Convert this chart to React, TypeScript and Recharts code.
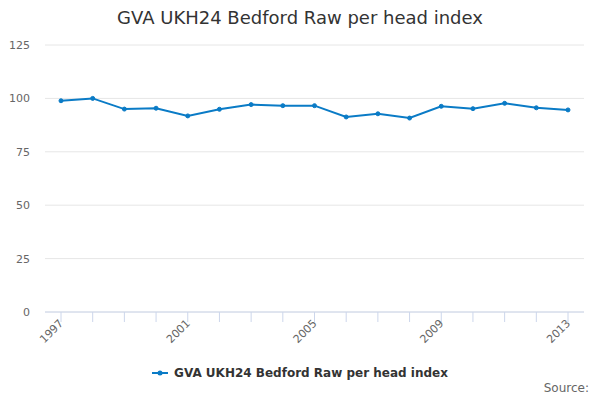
import React from "react";
import { LineChart, Line, XAxis, YAxis, CartesianGrid } from "recharts";

const years = [
  "1997", "1998", "1999", "2000", "2001", "2002", "2003", "2004", "2005",
  "2006", "2007", "2008", "2009", "2010", "2011", "2012", "2013",
];
const gvaIndex = [
  98.9, 100.0, 95.0, 95.4, 91.8, 94.9, 97.1, 96.6, 96.6,
  91.3, 92.8, 90.8, 96.3, 95.2, 97.7, 95.6, 94.6,
];
const yTicks = [0, 25, 50, 75, 100, 125];

const seriesName = "GVA UKH24 Bedford Raw per head index";
const lineColor = "#0a7bc6";
const font = "'DejaVu Sans', sans-serif";

const data = years.map((year, i) => ({ year, value: gvaIndex[i] }));

function YearTick({ x, y, payload, index }: { x?: number; y?: number; payload?: { value: string }; index?: number }) {
  const px = x ?? 0;
  const py = y ?? 0;
  return (
    <g>
      <line x1={px} y1={py} x2={px} y2={py + 10} stroke="#ccd6eb" />
      {index !== undefined && index % 4 === 0 && (
        <text
          x={px + 3}
          y={py + 12}
          textAnchor="end"
          fontSize={11}
          fill="#666666"
          fontFamily={font}
          transform={`rotate(-45 ${px + 3} ${py + 12})`}
        >
          {payload?.value}
        </text>
      )}
    </g>
  );
}

function LegendContent() {
  return (
    <div style={{ display: "flex", justifyContent: "center", alignItems: "center", fontFamily: font }}>
      <svg width={16} height={10} style={{ marginRight: 6 }}>
        <line x1={0} y1={5} x2={16} y2={5} stroke={lineColor} strokeWidth={2} />
        <circle cx={8} cy={5} r={2.5} fill={lineColor} />
      </svg>
      <span style={{ fontSize: 12, fontWeight: "bold", color: "#333333" }}>{seriesName}</span>
    </div>
  );
}

export default function App() {
  return (
    <div style={{ position: "absolute", left: 0, top: 0, width: 600, height: 400, background: "#fff", fontFamily: font }}>
      <div
        style={{
          position: "absolute",
          top: 7,
          width: 600,
          textAlign: "center",
          fontSize: 18,
          color: "#333333",
        }}
      >
        {seriesName}
      </div>
      <LineChart width={600} height={400} data={data} margin={{ top: 45, right: 16, left: 0, bottom: 58 }}>
        <CartesianGrid vertical={false} stroke="#e6e6e6" />
        <XAxis
          dataKey="year"
          height={30}
          interval={0}
          padding={{ left: 16, right: 16 }}
          tick={<YearTick />}
          tickLine={false}
          tickSize={0}
          tickMargin={0}
          stroke="#ccd6eb"
        />
        <YAxis
          width={45}
          domain={[0, 125]}
          ticks={yTicks}
          axisLine={false}
          tickLine={false}
          tickMargin={9}
          tick={{ fontSize: 11, fill: "#666666", fontFamily: font }}
        />
        <Line
          type="linear"
          dataKey="value"
          name={seriesName}
          stroke={lineColor}
          strokeWidth={2}
          dot={{ r: 2, fill: lineColor, stroke: lineColor, strokeWidth: 1 }}
          isAnimationActive={false}
        />
      </LineChart>
      <div style={{ position: "absolute", left: 0, top: 366, width: 600 }}>
        <LegendContent />
      </div>
      <div style={{ position: "absolute", right: 11, top: 381, fontSize: 12, color: "#666666" }}>Source:</div>
    </div>
  );
}
